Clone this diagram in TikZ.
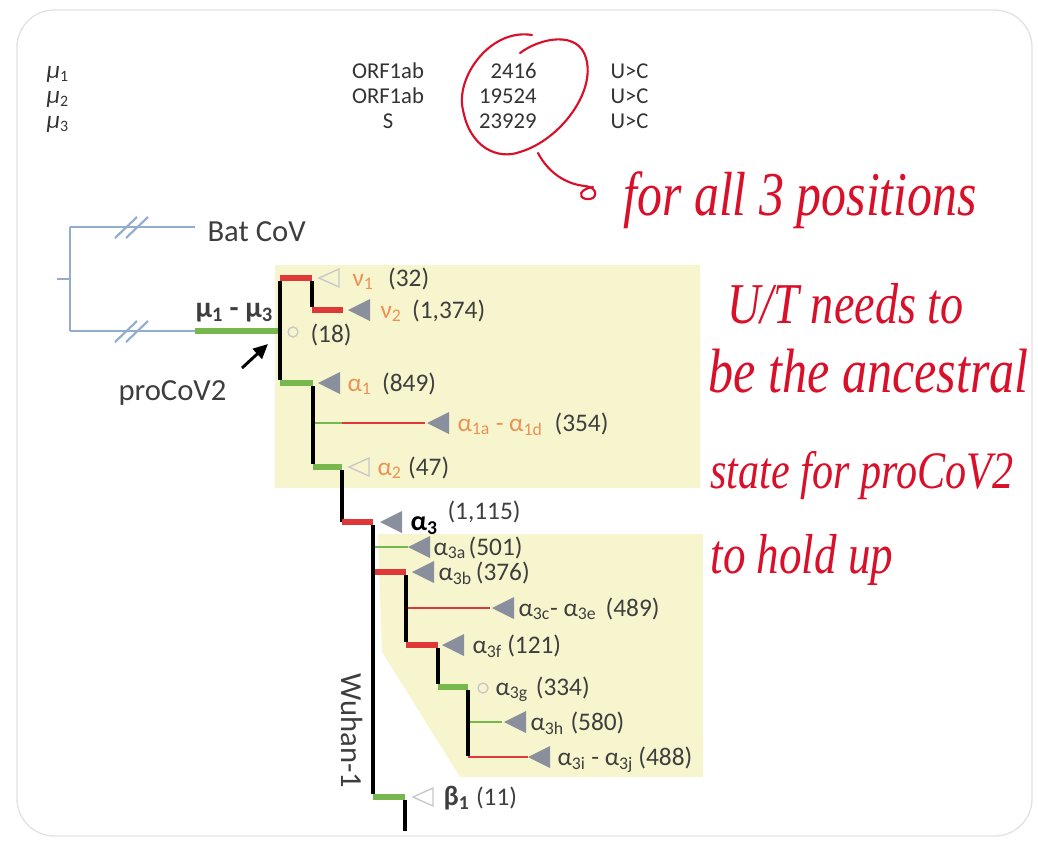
\documentclass[tikz,border=0pt]{standalone}
\usepackage{fontspec}
\usepackage{graphicx}
\setmainfont{Carlito}
\newfontfamily\handfont{Liberation Serif}
\usetikzlibrary{arrows.meta}

\definecolor{brred}{RGB}{224,56,56}
\definecolor{brgreen}{RGB}{118,184,78}
\definecolor{batblue}{RGB}{146,172,205}
\definecolor{boxyellow}{RGB}{247,245,206}
\definecolor{cladegray}{RGB}{138,143,158}
\definecolor{opengray}{RGB}{200,200,200}
\definecolor{lblorange}{RGB}{234,146,86}
\definecolor{lbltext}{RGB}{62,62,62}
\definecolor{inkred}{RGB}{216,16,42}
\definecolor{framegray}{RGB}{226,226,226}

\newcommand{\handline}[2]{\scalebox{1}[1.25]{\resizebox{#1}{!}{\handfont\itshape #2}}}

\tikzset{every picture/.style={line width=0.75pt}}
\tikzset{
  batline/.style={draw=batblue, line width=1.6pt},
  redthick/.style={draw=brred, line width=5pt},
  greenthick/.style={draw=brgreen, line width=5pt},
  redthin/.style={draw=brred, line width=2pt},
  greenthin/.style={draw=brgreen, line width=2pt},
  stem/.style={draw=black, line width=2.4pt},
  tablbl/.style={inner sep=0pt, text=black!80, font=\fontsize{17}{19}\selectfont},
  biglbl/.style={inner sep=0pt, text=lbltext, font=\fontsize{23}{26}\selectfont},
  tiplbl/.style={anchor=base west, inner sep=0pt, text=lbltext, font=\fontsize{19}{21}\selectfont},
  hand/.style={anchor=base west, inner sep=0pt, text=inkred},
  clade/.pic={\fill[cladegray] (0,0) -- (22,-11) -- (22,11) -- cycle;},
  openclade/.pic={\draw[opengray, line width=1pt] (1,0) -- (21,-9) -- (21,9) -- cycle;},
}

\begin{document}
\begin{tikzpicture}[x=0.75pt,y=0.75pt,yscale=-1,xscale=1]
\useasboundingbox (0,0) rectangle (1038,844);

%Frame
\draw [framegray, line width=1pt, rounded corners=28] (17,10) rectangle (1032,836);

%Mutation table
\node [tablbl, anchor=base west] (mu1) at (46,78) {\textit{\fontsize{19}{19}\selectfont μ}\textsubscript{1}};
\node [tablbl, anchor=base west] (mu2) at (46,103) {\textit{\fontsize{19}{19}\selectfont μ}\textsubscript{2}};
\node [tablbl, anchor=base west] (mu3) at (46,128) {\textit{\fontsize{19}{19}\selectfont μ}\textsubscript{3}};
\node [tablbl, anchor=base] (gene1) at (388,78) {ORF1ab};
\node [tablbl, anchor=base] (gene2) at (388,103) {ORF1ab};
\node [tablbl, anchor=base] (gene3) at (388,128) {S};
\node [tablbl, anchor=base east] (pos1) at (537,78) {2416};
\node [tablbl, anchor=base east] (pos2) at (537,103) {19524};
\node [tablbl, anchor=base east] (pos3) at (537,128) {23929};
\node [tablbl, anchor=base west] (sub1) at (610,78) {U>C};
\node [tablbl, anchor=base west] (sub2) at (610,103) {U>C};
\node [tablbl, anchor=base west] (sub3) at (610,128) {U>C};

%Red ink: circle and hook arrow
\draw [inkred, line width=1.6pt, line cap=round] (532,35) .. controls (490,28) and (455,78) .. (463,110) .. controls (470,148) and (498,160) .. (520,152) .. controls (560,140) and (596,92) .. (586,58) .. controls (578,30) and (540,38) .. (520,53);
\draw [inkred, line width=1.6pt, line cap=round] (538,153) .. controls (548,172) and (565,184) .. (585,186) .. controls (599,187) and (598,201) .. (586,199) .. controls (577,197) and (580,189) .. (593,187);

%Handwritten note
\node [hand] (note1) at (623,215) {\handline{265pt}{for all 3 positions}};
\node [hand] (note2) at (727,323) {\handline{177pt}{U/T needs to}};
\node [hand] (note3) at (708,392) {\handline{240pt}{be the ancestral}};
\node [hand] (note4) at (710,488) {\handline{227pt}{state for proCoV2}};
\node [hand] (note5) at (710,573) {\handline{137pt}{to hold up}};

%Shaded clade boxes
\fill [boxyellow] (275,265) rectangle (700,488);
\fill [boxyellow] (378,534) -- (703,534) -- (703,777) -- (460,777) -- (382,652) -- cycle;

%Bat CoV outgroup
\coordinate (root) at (70,279);
\coordinate (battop) at (70,227);
\coordinate (batbot) at (70,331);
\coordinate (batend) at (195,227);
\coordinate (procov) at (195,331);
\coordinate (n0) at (280,331);
\draw [batline] (57,279) -- (root);
\draw [batline] (battop) -- (batbot);
\draw [batline] (battop) -- (batend);
\draw [batline] (batbot) -- (procov);
\foreach \sx in {115,126} {
  \draw [batline] (\sx,238) -- (\sx+22,217);
  \draw [batline] (\sx,342) -- (\sx+22,321);
}
\draw [greenthick] (procov) -- (n0);
\node [biglbl, anchor=west] (batcov) at (207,232) {Bat CoV};
\node [biglbl, anchor=west, font=\fontsize{22}{24}\selectfont\bfseries] (mulbl) at (195,313) {μ\textsubscript{1} - μ\textsubscript{3}};
\node [biglbl, anchor=west] (procov2) at (118,393) {proCoV2};
\draw [line width=2.2pt, -{Triangle[length=11pt,width=10pt]}] (242,368) -- (268,344);

%Upper clade: nu and alpha1/alpha2
\coordinate (a) at (280,278);
\coordinate (b) at (280,383);
\coordinate (v) at (312,278);
\coordinate (vb) at (312,310);
\coordinate (nu2) at (343,310);
\coordinate (c) at (313,383);
\coordinate (cb) at (313,467);
\coordinate (a1a) at (342,423);
\coordinate (a1d) at (425,423);
\coordinate (d) at (342,467);
\coordinate (db) at (342,522);
\draw [redthick] (a) -- (v);
\draw [redthick] (vb) -- (nu2);
\draw [greenthick] (b) -- (c);
\draw [greenthin] (c |- a1a) -- (a1a);
\draw [redthin] (a1a) -- (a1d);
\draw [greenthick] (cb) -- (d);
\draw [stem] ([yshift=2.5pt]a) -- ([yshift=-2.5pt]b);
\draw [stem] ([yshift=2.5pt]v) -- ([yshift=-2.5pt]vb);
\draw [stem] ([yshift=2.5pt]c) -- ([yshift=-2.5pt]cb);
\draw [stem] ([yshift=2.5pt]d) -- (db);

\pic at (318,278) {openclade};
\node [tiplbl] (nu1lbl) at (352,286) {\textcolor{lblorange}{ν\textsubscript{1}}\hspace{11pt}(32)};
\pic at (348,310) {clade};
\node [tiplbl] (nu2lbl) at (380,318) {\textcolor{lblorange}{ν\textsubscript{2}}\hspace{8pt}(1,374)};
\draw [opengray, line width=1pt] (293,332) circle (5);
\node [tiplbl] (n18) at (310,342) {(18)};
\pic at (318,383) {clade};
\node [tiplbl] (a1lbl) at (347,391) {\textcolor{lblorange}{α\textsubscript{1}}\hspace{8pt}(849)};
\pic at (427,423) {clade};
\node [tiplbl] (a1alb) at (457,431) {\textcolor{lblorange}{α\textsubscript{1a} - α\textsubscript{1d}}\hspace{9pt}(354)};
\pic at (348,467) {openclade};
\node [tiplbl] (a2lbl) at (377,475) {\textcolor{lblorange}{α\textsubscript{2}}\hspace{5pt}(47)};

%Lower clade: alpha3 and Wuhan-1
\coordinate (e) at (373,522);
\coordinate (eb) at (373,797);
\coordinate (a3a) at (408,547);
\coordinate (f) at (406,572);
\coordinate (fb) at (406,645);
\coordinate (a3c) at (490,608);
\coordinate (g) at (438,645);
\coordinate (gb) at (438,687);
\coordinate (h) at (468,687);
\coordinate (hb) at (468,757);
\coordinate (a3h) at (502,722);
\coordinate (a3i) at (528,757);
\coordinate (k) at (405,797);
\draw [redthick] (db) -- (e);
\draw [greenthin] (e |- a3a) -- (a3a);
\draw [redthick] (e |- f) -- (f);
\draw [redthin] (f |- a3c) -- (a3c);
\draw [redthick] (fb) -- (g);
\draw [greenthick] (gb) -- (h);
\draw [greenthin] (h |- a3h) -- (a3h);
\draw [redthin] (hb) -- (a3i);
\draw [greenthick] (eb) -- (k);
\draw [stem] ([yshift=2.5pt]e) -- ([yshift=-2.5pt]eb);
\draw [stem] ([yshift=2.5pt]f) -- ([yshift=-2.5pt]fb);
\draw [stem] ([yshift=2.5pt]g) -- ([yshift=-2.5pt]gb);
\draw [stem] ([yshift=2.5pt]h) -- ([yshift=-1pt]hb);
\draw [stem] ([yshift=2.5pt]k) -- (405,831);

\pic at (380,522) {clade};
\node [tiplbl, text=black, font=\fontsize{21}{23}\selectfont\bfseries] (a3lbl) at (410,530) {α\textsubscript{3}};
\node [tiplbl] (a3num) at (447,519) {(1,115)};
\pic at (408,547) {clade};
\node [tiplbl] (a3alb) at (433,555) {α\textsubscript{3a}\hspace{2pt}(501)};
\pic at (412,572) {clade};
\node [tiplbl] (a3blb) at (438,580) {α\textsubscript{3b}\hspace{3pt}(376)};
\pic at (492,608) {clade};
\node [tiplbl] (a3clb) at (518,616) {α\textsubscript{3c}- α\textsubscript{3e}\hspace{7pt}(489)};
\pic at (442,645) {clade};
\node [tiplbl] (a3flb) at (472,653) {α\textsubscript{3f}\hspace{4pt}(121)};
\draw [opengray, line width=1pt] (483,688) circle (5);
\node [tiplbl] (a3glb) at (495,695) {α\textsubscript{3g}\hspace{6pt}(334)};
\pic at (504,722) {clade};
\node [tiplbl] (a3hlb) at (530,730) {α\textsubscript{3h}\hspace{5pt}(580)};
\pic at (528,757) {clade};
\node [tiplbl] (a3ilb) at (557,765) {α\textsubscript{3i} - α\textsubscript{3j}\hspace{4pt}(488)};
\pic at (412,797) {openclade};
\node [tiplbl] (b1lbl) at (443,805) {\textbf{\fontsize{21}{23}\selectfont β\textsubscript{1}}\hspace{5pt}(11)};
\node [biglbl, rotate=-90] (wuhan) at (352,731) {Wuhan-1};
\end{tikzpicture}
\end{document}
